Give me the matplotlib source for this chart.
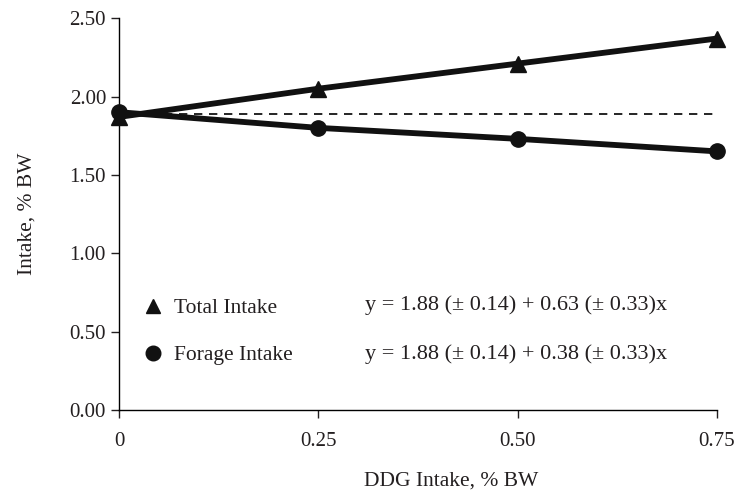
import matplotlib
matplotlib.use("Agg")
import matplotlib.pyplot as plt
from matplotlib.lines import Line2D

plt.rcParams['font.family'] = ['Liberation Serif', 'DejaVu Serif']

ddg = [0, 0.25, 0.50, 0.75]
total_intake = [1.87, 2.05, 2.21, 2.37]
forage_intake = [1.90, 1.80, 1.73, 1.65]
baseline = 1.89
xticklabels = ['0', '0.25', '0.50', '0.75']
yticks = [0.0, 0.5, 1.0, 1.5, 2.0, 2.5]
eq_total = 'y = 1.88 (± 0.14) + 0.63 (± 0.33)x'
eq_forage = 'y = 1.88 (± 0.14) + 0.38 (± 0.33)x'

fig = plt.figure(figsize=(7.36, 4.91), dpi=100)
ax = fig.add_axes([0.162, 0.165, 0.812, 0.798])

ax.plot([ddg[0], ddg[-1]], [baseline, baseline], color='black', lw=1.2,
        linestyle=(0, (5, 4)), zorder=2)
ax.plot(ddg, total_intake, color='#111111', lw=4.2, marker='^', markersize=11,
        clip_on=False, zorder=3)
ax.plot(ddg, forage_intake, color='#111111', lw=4.2, marker='o', markersize=11,
        clip_on=False, zorder=3)

ax.set_xlim(0, 0.75)
ax.set_ylim(0, 2.5)
ax.set_xticks(ddg)
ax.set_xticklabels(xticklabels)
ax.set_yticks(yticks)
ax.set_yticklabels([f'{v:.2f}' for v in yticks])
for s in ['top', 'right']:
    ax.spines[s].set_visible(False)
for s in ['left', 'bottom']:
    ax.spines[s].set_linewidth(1.0)
ax.tick_params(axis='both', direction='out', length=5.5, width=1.0,
               labelsize=15, colors='#231f20')
ax.tick_params(axis='x', pad=10)
ax.tick_params(axis='y', pad=4)

ax.set_xlabel('DDG Intake, % BW', fontsize=15.5, color='#231f20')
ax.xaxis.set_label_coords(0.555, -0.158)
ax.set_ylabel('Intake, % BW', fontsize=15.5, labelpad=24, color='#231f20')

handles = [Line2D([], [], color='#111111', marker='^', linestyle='none', markersize=10),
           Line2D([], [], color='#111111', marker='o', linestyle='none', markersize=10.5)]
leg = ax.legend(handles, ['Total Intake', 'Forage Intake'], loc='upper left',
                bbox_to_anchor=(0.01, 0.335), frameon=False, fontsize=15.5,
                handlelength=0.8, handletextpad=0.55, labelspacing=1.25)
for t in leg.get_texts():
    t.set_color('#231f20')
ax.text(0.412, 0.268, eq_total, transform=ax.transAxes, fontsize=16,
        va='center', color='#231f20')
ax.text(0.412, 0.143, eq_forage, transform=ax.transAxes, fontsize=16,
        va='center', color='#231f20')

fig.savefig('out.png', dpi=100)
